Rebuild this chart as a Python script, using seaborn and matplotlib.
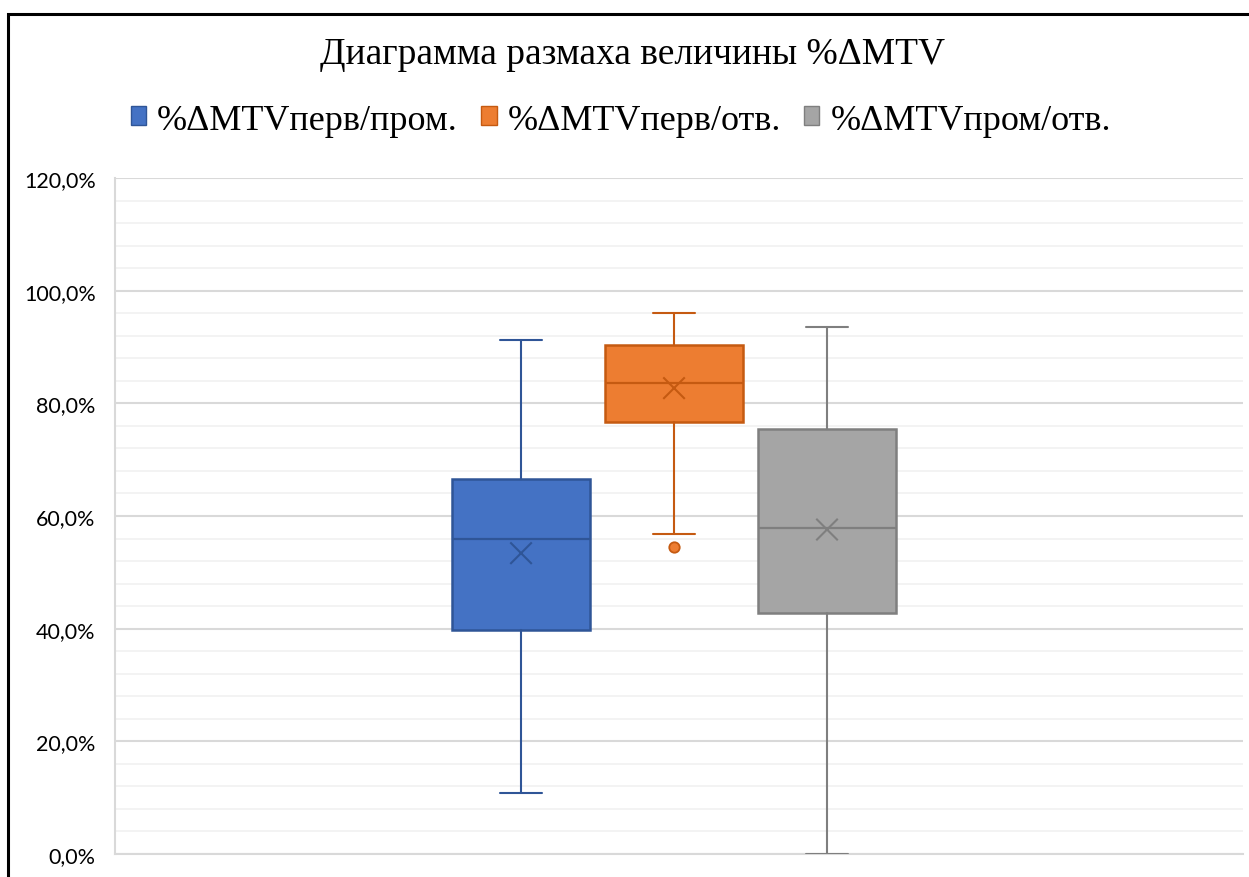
import numpy as np
import pandas as pd
import matplotlib
matplotlib.use("Agg")
import matplotlib.pyplot as plt
from matplotlib.patches import Rectangle, Patch
from matplotlib.ticker import MultipleLocator, FuncFormatter
import seaborn as sns

# ---- data (percent) ----
series = ["%ΔMTVперв/пром.", "%ΔMTVперв/отв.", "%ΔMTVпром/отв."]
whisker_low = [10.9, 56.8, 0.0]
q1 = [39.7, 76.7, 42.8]
median = [55.9, 83.6, 57.9]
q3 = [66.6, 90.4, 75.5]
whisker_high = [91.2, 96.1, 93.6]
means = [53.4, 82.7, 57.6]
outliers = [[], [54.5], []]

fill_colors = ["#4472C4", "#ED7D31", "#A5A5A5"]
edge_colors = ["#2F5597", "#C55A11", "#7F7F7F"]

sns.set_style("white")
plt.rcParams["font.family"] = ["Liberation Serif", "DejaVu Serif"]
plt.rcParams["text.color"] = "black"

fig = plt.figure(figsize=(12.49, 8.78), dpi=100)
ax = fig.add_axes([115 / 1249, 23 / 878, 1128 / 1249, 676 / 878])

positions = [-1, 0, 1]
for i, s in enumerate(series):
    st = [dict(label=s, whislo=whisker_low[i], q1=q1[i], med=median[i],
               q3=q3[i], whishi=whisker_high[i], mean=means[i],
               fliers=np.array(outliers[i]))]
    ax.bxp(st, positions=[positions[i]], widths=0.905, capwidths=0.27,
           patch_artist=True, showmeans=False, showfliers=True,
           boxprops=dict(facecolor=fill_colors[i], edgecolor=edge_colors[i], linewidth=1.8),
           medianprops=dict(color=edge_colors[i], linewidth=1.6),
           whiskerprops=dict(color=edge_colors[i], linewidth=1.5),
           capprops=dict(color=edge_colors[i], linewidth=1.5),
           flierprops=dict(marker="o", markerfacecolor=fill_colors[i],
                           markeredgecolor=edge_colors[i], markersize=7.5,
                           markeredgewidth=1.3),
           zorder=3)

mean_df = pd.DataFrame({"pos": positions, "mean": means, "series": series})
sns.scatterplot(data=mean_df, x="pos", y="mean", hue="series",
                palette=dict(zip(series, edge_colors)), marker="x", s=240,
                linewidth=1.5, legend=False, ax=ax, zorder=4)

ax.set_xlim(-3.654, 3.719)
ax.set_ylim(0, 120)
ax.yaxis.set_major_locator(MultipleLocator(20))
ax.yaxis.set_minor_locator(MultipleLocator(4))
ax.grid(which="minor", axis="y", color="#F2F2F2", linewidth=1.3, zorder=0)
ax.grid(which="major", axis="y", color="#D9D9D9", linewidth=1.5, zorder=0)
ax.set_axisbelow(True)
ax.set_xticks([])
ax.set_xlabel("")
ax.set_ylabel("")
ax.yaxis.set_major_formatter(FuncFormatter(lambda v, p: f"{v:.1f}%".replace(".", ",")))
ax.tick_params(axis="y", which="both", length=0, pad=14, labelsize=15.5, colors="#000000")
for lab in ax.get_yticklabels():
    lab.set_family(["Lato", "DejaVu Sans"])
for sp in ["top", "right"]:
    ax.spines[sp].set_visible(False)
ax.spines["left"].set_color("#D9D9D9")
ax.spines["left"].set_linewidth(1.5)
ax.spines["bottom"].set_color("#D9D9D9")
ax.spines["bottom"].set_linewidth(1.5)

fig.text(633 / 1249, 1 - 55 / 878, "Диаграмма размаха величины %ΔMTV",
         ha="center", va="center", fontsize=27, color="#000000")

handles = [Patch(facecolor=fill_colors[i], edgecolor=edge_colors[i], linewidth=1.0, label=series[i])
           for i in range(3)]
leg = fig.legend(handles=handles, loc="center", bbox_to_anchor=(621 / 1249, 1 - 121 / 878),
                 ncol=3, frameon=False, fontsize=26, handlelength=0.42, handleheight=0.42,
                 handletextpad=0.3, columnspacing=0.65, borderaxespad=0)
for t in leg.get_texts():
    t.set_color("black")

fig.patches.append(Rectangle((8 / 1249, -0.1), 1.2, 1.1 - 15 / 878,
                             transform=fig.transFigure, fill=False,
                             edgecolor="black", linewidth=2.2, zorder=10))

fig.savefig("out.png", dpi=100)
